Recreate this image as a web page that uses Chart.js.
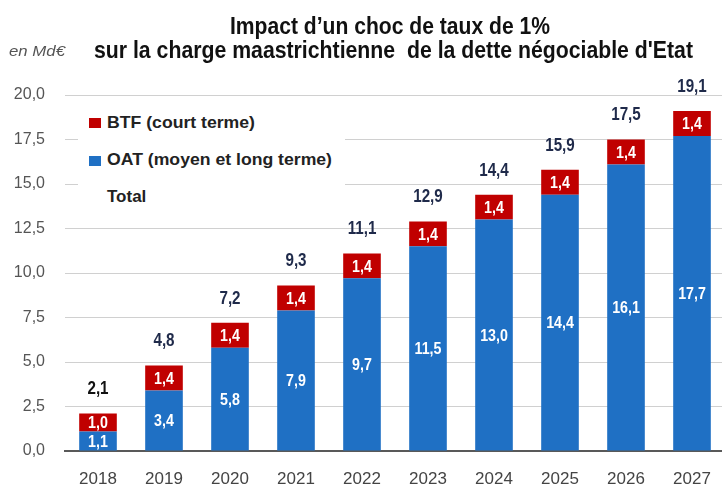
<!DOCTYPE html>
<html>
<head>
<meta charset="utf-8">
<script src="https://cdn.jsdelivr.net/npm/chart.js@4/dist/chart.umd.min.js"></script>
<style>
  html, body { margin: 0; padding: 0; background: #fff; overflow: hidden; }
  #wrap { position: relative; width: 722px; height: 484px; overflow: hidden; font-family: "Liberation Sans", Arial, sans-serif; }
  canvas { position: absolute; left: 0; top: 0; }
  .titre { position: absolute; font-family: "Liberation Sans", Arial, sans-serif; font-weight: bold; font-size: 23px; line-height: 23px; color: #111; white-space: nowrap; transform-origin: 0 0; }
  #t1 { top: 15px; left: 230px; }
  #t2 { top: 39px; left: 94px; }
  #unite { position: absolute; left: 9px; top: 44px; font-style: italic; font-size: 14px; line-height: 14px; color: #555; white-space: nowrap; transform-origin: 0 0; }
  #legende { position: absolute; left: 78px; top: 101px; width: 267px; height: 114px; background: #fff; }
  .item { position: absolute; left: 29px; font-size: 17px; line-height: 17px; font-weight: bold; color: #222; white-space: nowrap; transform-origin: 0 0; }
  .carre { position: absolute; width: 12px; height: 10px; }
</style>
</head>
<body>
<div id="wrap">
  <canvas id="graphique" width="730" height="484"></canvas>
  <div class="titre" id="t1" data-largeur="320">Impact d’un choc de taux de 1%</div>
  <div class="titre" id="t2" data-largeur="599">sur la charge maastrichtienne&nbsp; de la dette négociable d'Etat</div>
  <div id="unite" data-largeur="56">en Md€</div>
  <div id="legende">
    <div class="carre" style="left:11px; top:17px; background:#c00000"></div>
    <div class="item" style="top:13px" data-largeur="148">BTF (court terme)</div>
    <div class="carre" style="left:11px; top:55px; background:#1f70c4"></div>
    <div class="item" style="top:50px" data-largeur="225">OAT (moyen et long terme)</div>
    <div class="item" style="top:87px">Total</div>
  </div>
</div>
<script>
  const annees = ['2018', '2019', '2020', '2021', '2022', '2023', '2024', '2025', '2026', '2027'];
  const oat = [1.1, 3.4, 5.8, 7.9, 9.7, 11.5, 13.0, 14.4, 16.1, 17.7];
  const btf = [1.0, 1.4, 1.4, 1.4, 1.4, 1.4, 1.4, 1.4, 1.4, 1.4];
  const totaux = [2.1, 4.8, 7.2, 9.3, 11.1, 12.9, 14.4, 15.9, 17.5, 19.1];

  const virgule = v => v.toFixed(1).replace('.', ',');

  // police étroite : on resserre le texte à la largeur voulue
  document.querySelectorAll('[data-largeur]').forEach(el => {
    const w = el.getBoundingClientRect().width;
    el.style.transform = 'scaleX(' + (el.dataset.largeur / w) + ')';
  });

  function texteEtroit(ctx, txt, x, y, sx, sy) {
    ctx.save();
    ctx.translate(x, y);
    ctx.scale(sx, sy);
    ctx.fillText(txt, 0, 0);
    ctx.restore();
  }

  // étiquettes dans les barres et totaux au-dessus
  const etiquettes = {
    id: 'etiquettes',
    afterDatasetsDraw(chart) {
      const ctx = chart.ctx;
      ctx.save();
      ctx.textAlign = 'center';
      ctx.textBaseline = 'middle';
      ctx.font = 'bold 15px "Liberation Sans", Arial, sans-serif';
      ctx.fillStyle = '#fff';
      chart.data.datasets.forEach((ds, i) => {
        chart.getDatasetMeta(i).data.forEach((bar, j) => {
          const milieu = (bar.y + bar.base) / 2;
          texteEtroit(ctx, virgule(ds.data[j]), bar.x, milieu + 1, 0.95, 1.15);
        });
      });
      ctx.font = 'bold 16px "Liberation Sans", Arial, sans-serif';
      chart.getDatasetMeta(1).data.forEach((bar, j) => {
        ctx.fillStyle = j === 0 ? '#111' : '#1f2a4a';
        texteEtroit(ctx, virgule(totaux[j]), bar.x, bar.y - 24, 0.95, 1.1);
      });
      ctx.restore();
    }
  };

  new Chart(document.getElementById('graphique').getContext('2d'), {
    type: 'bar',
    data: {
      labels: annees,
      datasets: [{
        label: 'OAT (moyen et long terme)',
        data: oat,
        backgroundColor: '#1f70c4'
      }, {
        label: 'BTF (court terme)',
        data: btf,
        backgroundColor: '#c00000'
      }]
    },
    options: {
      responsive: false,
      animation: false,
      layout: { padding: { top: 95, right: 5, left: 0, bottom: 0 } },
      datasets: { bar: { barPercentage: 1, categoryPercentage: 0.57 } },
      scales: {
        x: {
          stacked: true,
          grid: { display: false },
          border: { color: '#595959', width: 2 },
          ticks: { color: '#444', font: { size: 17, family: '"Liberation Sans", Arial' }, padding: 10 },
          afterFit(scale) { scale.height = 33; }
        },
        y: {
          stacked: true,
          min: 0,
          max: 20,
          grid: { color: '#d0d0d0', drawTicks: false },
          border: { display: false },
          ticks: {
            stepSize: 2.5,
            color: '#555',
            padding: 20,
            font: { size: 16, family: '"Liberation Sans", Arial' },
            callback: function(value) {
              return virgule(value);
            }
          },
          afterFit(scale) { scale.width = 65; }
        }
      },
      plugins: {
        legend: { display: false },
        tooltip: { enabled: false }
      }
    },
    plugins: [etiquettes]
  });
</script>
</body>
</html>
